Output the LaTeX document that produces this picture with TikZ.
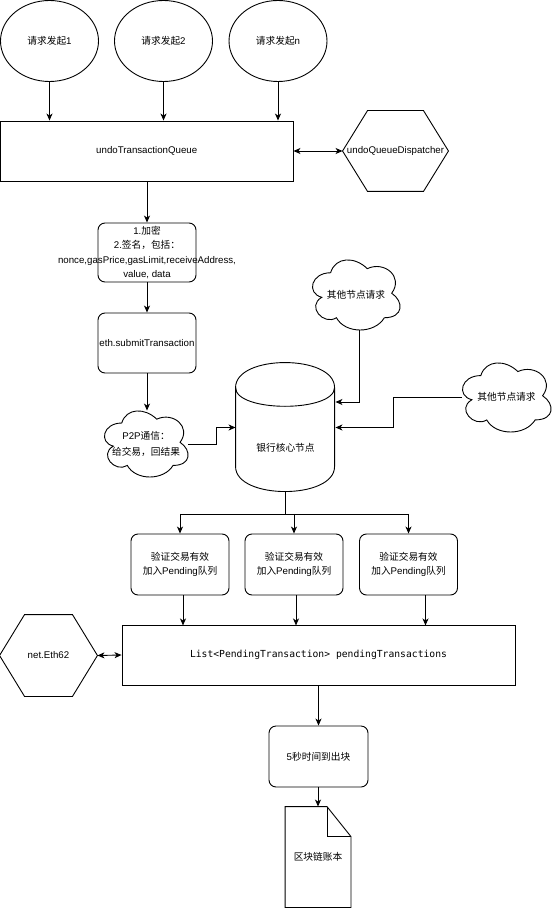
\documentclass[tikz,border=0pt]{standalone}
\usepackage{fontspec}
\setmainfont{Liberation Sans}
\newfontfamily\cjk{Noto Sans CJK SC}
\newfontfamily\monof{DejaVu Sans Mono}
\usetikzlibrary{arrows.meta,calc,shapes.geometric}
\newcommand\drawcloud[3]{%
  \pgfmathsetmacro\cloudw{#2/0.9}%
  \pgfmathsetmacro\cloudh{#3/0.856}%
  \draw[shift={(#1.center)}, x=\cloudw pt, y=-\cloudh pt, shift={(-0.51,-0.522)}]
    (0.25,0.25) .. controls (0.05,0.25) and (0,0.5) .. (0.16,0.55)
    .. controls (0,0.66) and (0.18,0.9) .. (0.31,0.8)
    .. controls (0.4,1) and (0.7,1) .. (0.8,0.8)
    .. controls (1,0.8) and (1,0.6) .. (0.875,0.5)
    .. controls (1,0.3) and (0.8,0.1) .. (0.625,0.2)
    .. controls (0.5,0.05) and (0.3,0.05) .. (0.25,0.25) -- cycle;}
\newcommand\drawhex[2]{%
  \draw (#1.west) -- ($(#1.north west)+(#2,0)$) -- ($(#1.north east)+(-#2,0)$) -- (#1.east)
    -- ($(#1.south east)+(-#2,0)$) -- ($(#1.south west)+(#2,0)$) -- cycle;}
\begin{document}
\begin{tikzpicture}[x=1pt,y=-1pt,line width=0.9pt,
  every node/.style={font=\fontsize{9.7}{14.3}\selectfont, inner sep=0pt},
  ell/.style={draw, ellipse, minimum width=98pt, minimum height=81pt},
  box/.style={draw, rectangle, align=center},
  rbox/.style={box, rounded corners=7pt, minimum width=98pt, minimum height=60pt},
  plain/.style={rectangle, align=center},
  arr/.style={-{Stealth[length=7pt,width=6pt,inset=2pt]}},
  darr/.style={{Stealth[length=7pt,width=6pt,inset=2pt]}-{Stealth[length=7pt,width=6pt,inset=2pt]}}]
\fill[white] (0,0) rectangle (554,909);
\useasboundingbox (0,0) rectangle (554,909);

% request ellipses
\node[ell] (r1) at (49.5,41) {{\cjk 请求发起}1};
\node[ell] (r2) at (163.5,41) {{\cjk 请求发起}2};
\node[ell] (r3) at (278,41) {{\cjk 请求发起}n};

% queue and dispatcher
\node[box, minimum width=292.5pt, minimum height=60pt] (q) at (146.75,151) {undoTransactionQueue};
\node[plain, minimum width=105pt, minimum height=80pt] (disp) at (395.5,151) {undoQueueDispatcher};
\drawhex{disp}{25}

% steps
\node[rbox, minimum height=59pt] (b1) at (147,252.5)
  {1.{\cjk 加密}\\2.{\cjk 签名，包括：}\\\makebox[98pt]{nonce,gasPrice,gasLimit,receiveAddress,}\\value, data};
\node[rbox] (b2) at (147,343) {eth.submitTransaction};

% P2P cloud
\node[plain, minimum width=84pt, minimum height=66pt] (p2p) at (146,444)
  {P2P{\cjk 通信：}\\[2pt]{\cjk 给交易，回结果}};
\drawcloud{p2p}{84}{66}

% other node clouds
\node[plain, minimum width=88pt, minimum height=70pt] (c1) at (356,295) {\raisebox{2pt}{\cjk 其他节点请求}};
\drawcloud{c1}{88}{70}
\node[plain, minimum width=89pt, minimum height=69pt] (c2) at (506.5,397.5) {\raisebox{3pt}{\cjk 其他节点请求}};
\drawcloud{c2}{89}{69}

% bank core cylinder
\node[plain, minimum width=99pt, minimum height=129pt] (bank) at (285.5,427.5) {};
\begin{scope}[shift={(bank.north west)}]
  \draw (0,25) .. controls (0,-8.33) and (99,-8.33) .. (99,25) -- (99,104)
        .. controls (99,137.33) and (0,137.33) .. (0,104) -- cycle;
  \draw (0,25) .. controls (0,50) and (99,50) .. (99,25);
\end{scope}
\node (banktext) at (285.5,448) {{\cjk 银行核心节点}};

% verify boxes
\node[rbox, minimum height=61pt] (v1) at (180,564.5) {{\cjk 验证交易有效}\\{\cjk 加入}Pending{\cjk 队列}};
\node[rbox, minimum height=61pt] (v2) at (294,564.5) {{\cjk 验证交易有效}\\{\cjk 加入}Pending{\cjk 队列}};
\node[rbox, minimum height=61pt] (v3) at (408.5,564.5) {{\cjk 验证交易有效}\\{\cjk 加入}Pending{\cjk 队列}};

% pending list and net
\node[box, minimum width=393pt, minimum height=60pt] (list) at (318.5,655) {\monof List<PendingTransaction> pendingTransactions};
\node[plain, minimum width=97pt, minimum height=81pt] (net) at (48.5,655.5) {net.Eth62};
\drawhex{net}{25}

% block timer and ledger
\node[rbox, minimum width=99pt, minimum height=61pt] (t5) at (318.5,756.5) {5{\cjk 秒时间到出块}};
\node[plain, minimum width=65pt, minimum height=100pt] (doc) at (318,857) {{\cjk 区块链账本}};
\draw (doc.south west) -- (doc.north west) -- ($(doc.north east)+(-24,0)$) -- ($(doc.north east)+(0,30)$) -- (doc.south east) -- cycle;
\draw ($(doc.north east)+(-24,0)$) -- ($(doc.north east)+(-24,30)$) -- ($(doc.north east)+(0,30)$);

% connectors
\draw[arr] (r1.south) -- (r1.south |- q.north);
\draw[arr] (r2.south) -- (r2.south |- q.north);
\draw[arr] (r3.south) -- (r3.south |- q.north);
\draw[darr] (q.east) -- (disp.west);
\draw[arr] (q.south -| b1.north) -- (b1.north);
\draw[arr] (b1.south) -- (b2.north);
\draw[arr] (b2.south) -- (b2.south |- p2p.north);
\draw[arr] (p2p.east) -- ++(28,0) |- (bank.west);
\draw[arr] ([xshift=3pt]c1.south) |- ([yshift=25.5pt]bank.east);
\draw[arr] (c2.west) -- ++(-68,0) |- (bank.east);
\draw (bank.south) -- ++(0,21.5) coordinate (split);
\draw (v1.north |- split) -- (v3.north |- split);
\draw[arr] (v1.north |- split) -- (v1.north);
\draw[arr] (v2.north |- split) -- (v2.north);
\draw[arr] (v3.north |- split) -- (v3.north);
\draw[arr] ($(v1.south)+(3,0)$) -- ++(0,30);
\draw[arr] ($(v2.south)+(2,0)$) -- ++(0,30);
\draw[arr] ($(v3.south)+(17,0)$) -- ++(0,30);
\draw[darr] (net.east) -- (list.west);
\draw[arr] (list.south -| t5.north) -- (t5.north);
\draw[arr] (t5.south -| doc.north) -- (doc.north);
\end{tikzpicture}
\end{document}
